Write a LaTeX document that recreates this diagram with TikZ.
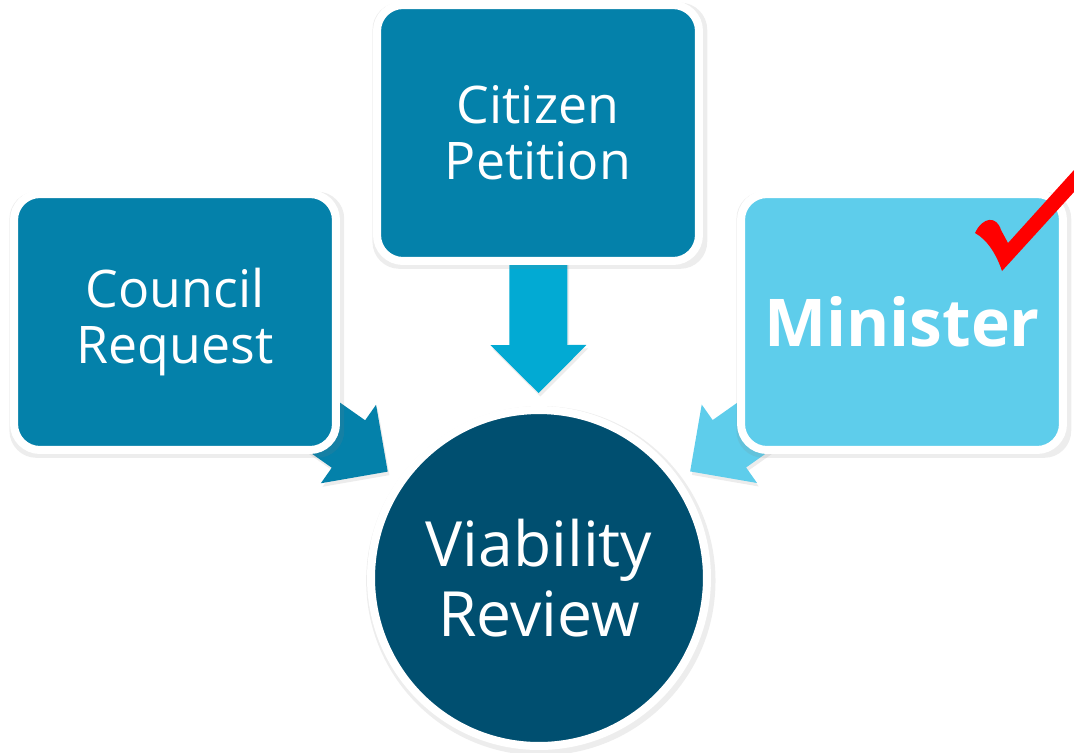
\documentclass[tikz,border=0pt]{standalone}
\usepackage{fontspec}
\setmainfont{Open Sans}
\usetikzlibrary{calc, shadows, backgrounds}
\definecolor{boxblue}{RGB}{4,129,170}
\definecolor{lightblue}{RGB}{94,205,235}
\definecolor{midblue}{RGB}{2,170,211}
\definecolor{darkblue}{RGB}{0,79,112}
\tikzset{every node/.style={align=center}}
\tikzset{shade off/.style={drop shadow={shadow scale=1.04, shadow xshift=1pt, shadow yshift=-1.5pt, opacity=0.14}}}
\tikzset{arrow shade/.style={drop shadow={shadow xshift=1pt, shadow yshift=-2pt, opacity=0.15}}}
\tikzset{box/.style={rectangle, rounded corners=0.52cm, draw=white, line width=0.16cm, minimum width=6.44cm, minimum height=5.12cm, text=white, shade off}}
\tikzset{hub/.style={circle, draw=white, line width=0.16cm, minimum size=6.72cm, fill=darkblue, text=white, shade off}}
\newcommand{\boxfont}{\fontsize{29.5pt}{32pt}\selectfont}
\newcommand{\hubfont}{\fontsize{35.5pt}{40pt}\selectfont}
\newcommand{\minfont}{\fontsize{37.5pt}{44pt}\selectfont\bfseries}
\newcommand{\barrow}[3]{\fill[#3, arrow shade] let \p1 = ($(#2)-(#1)$), \n1 = {atan2(\y1,\x1)} in
 ($(#1)+(\n1+90:0.58cm)$) --
 ($(#2)+(\n1+180:0.96cm)+(\n1+90:0.58cm)$) --
 ($(#2)+(\n1+180:0.96cm)+(\n1+90:0.96cm)$) --
 (#2) --
 ($(#2)+(\n1+180:0.96cm)+(\n1-90:0.96cm)$) --
 ($(#2)+(\n1+180:0.96cm)+(\n1-90:0.58cm)$) --
 ($(#1)+(\n1-90:0.58cm)$) -- cycle}

\begin{document}
\begin{tikzpicture}[x=0.02cm, y=-0.02cm]
	\useasboundingbox (0,0) rectangle (1074,752);

	% Boxes
	\node[box, fill=boxblue, font=\boxfont] (council) at (175,322) {Council\\Request};
	\node[box, fill=boxblue, font=\boxfont] (petition) at (538,133) {Citizen\\Petition};
	\node[box, fill=lightblue, font=\minfont] (minister) at (902,322) {Minister};
	%% Hub
	\node[hub, font=\hubfont] (review) at (539,578) {Viability\\Review};

	% Arrows
	\coordinate (tipC) at ($(review.center)!3.7cm!(council.center)$);
	\coordinate (tipP) at ($(review.center)!3.7cm!(petition.center)$);
	\coordinate (tipM) at ($(review.center)!3.7cm!(minister.center)$);
	\begin{scope}[on background layer]
		\barrow{council.center}{tipC}{boxblue};
		\barrow{petition.center}{tipP}{midblue};
		\barrow{minister.center}{tipM}{lightblue};
	\end{scope}

	% Tick
	\fill[red] (975,233) .. controls (983,216) and (997,216) .. (1001,230) -- (1008,243)
		-- (1074,170) -- (1074,192) -- (1002,271) .. controls (997,256) and (988,240) .. cycle;
\end{tikzpicture}
\end{document}
